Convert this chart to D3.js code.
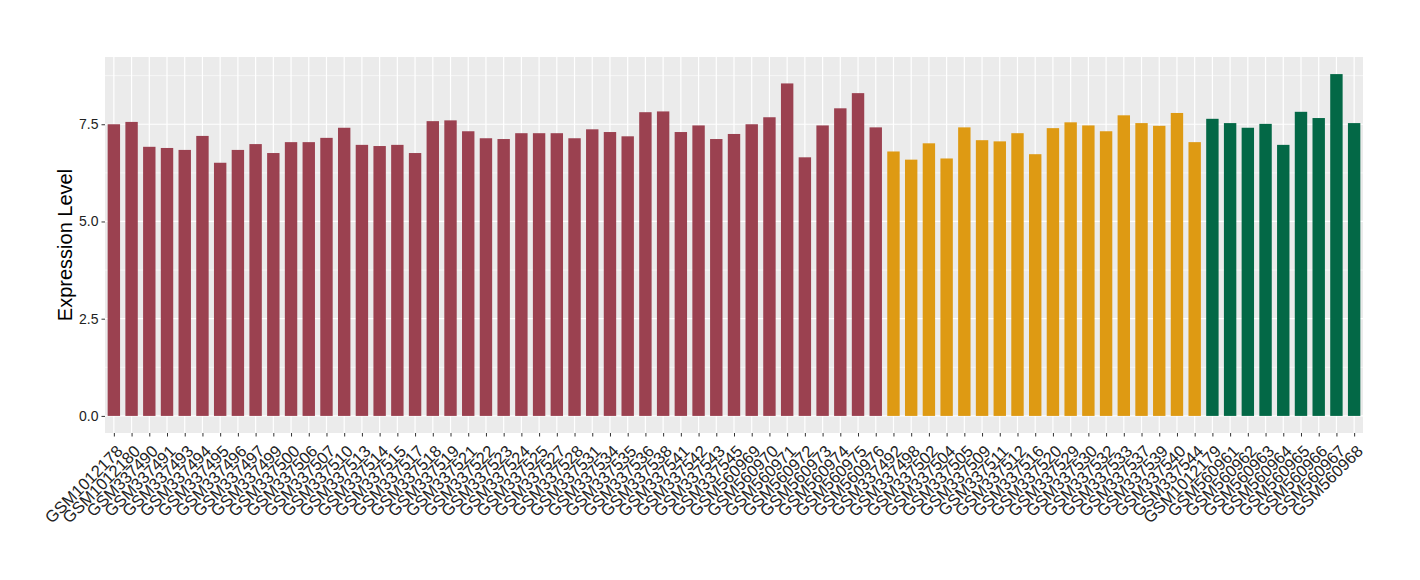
<!DOCTYPE html>
<html>
<head>
<meta charset="utf-8">
<script src="https://cdn.jsdelivr.net/npm/d3@7"></script>
<style>
  body { margin: 0; background: #fff; }
  text { font-family: "Liberation Sans", Arial, Helvetica, sans-serif; }
</style>
</head>
<body>
<svg id="chart" width="1420" height="580"></svg>
<script>
const samples = ["GSM1012178","GSM1012180","GSM337490","GSM337491","GSM337493","GSM337494","GSM337495","GSM337496","GSM337497","GSM337499","GSM337500","GSM337506","GSM337507","GSM337510","GSM337513","GSM337514","GSM337515","GSM337517","GSM337518","GSM337519","GSM337521","GSM337522","GSM337523","GSM337524","GSM337525","GSM337527","GSM337528","GSM337531","GSM337534","GSM337535","GSM337536","GSM337538","GSM337541","GSM337542","GSM337543","GSM337545","GSM560969","GSM560970","GSM560971","GSM560972","GSM560973","GSM560974","GSM560975","GSM560976",
"GSM337492","GSM337498","GSM337502","GSM337504","GSM337505","GSM337509","GSM337511","GSM337512","GSM337516","GSM337520","GSM337529","GSM337530","GSM337532","GSM337533","GSM337537","GSM337539","GSM337540","GSM337544",
"GSM1012179","GSM560961","GSM560962","GSM560963","GSM560964","GSM560965","GSM560966","GSM560967","GSM560968"];

const values = [7.50,7.56,6.92,6.89,6.84,7.20,6.51,6.84,6.99,6.76,7.04,7.04,7.15,7.41,6.97,6.94,6.97,6.76,7.58,7.60,7.32,7.14,7.12,7.27,7.27,7.27,7.14,7.37,7.30,7.19,7.81,7.83,7.30,7.47,7.12,7.25,7.50,7.68,8.55,6.65,7.47,7.91,8.30,7.42,
6.80,6.59,7.01,6.62,7.42,7.09,7.06,7.27,6.73,7.40,7.55,7.47,7.32,7.73,7.53,7.46,7.79,7.04,
7.64,7.53,7.41,7.51,6.97,7.82,7.66,8.79,7.53];

const groups = [].concat(Array(44).fill("A"), Array(18).fill("B"), Array(9).fill("C"));
const groupNames = ["A","B","C"];
const groupColors = ["#9B4150","#DE9A13","#036846"];

const yTicks = [0, 2.5, 5, 7.5];
const yMinor = [1.25, 3.75, 6.25, 8.75];

const data = samples.map((s, i) => ({ name: s, value: values[i], group: groups[i] }));

const svg = d3.select("#chart");
const pL = 105, pR = 1363, pT = 57, pB = 433;

const xc = d3.scalePoint().domain(samples).range([pL, pR]).padding(0.5);
const maxV = d3.max(values);
const y = d3.scaleLinear().domain([-maxV * 0.05, maxV * 1.05]).range([pB, pT]);
const color = d3.scaleOrdinal().domain(groupNames).range(groupColors);

// panel
svg.append("rect").attr("x", pL).attr("y", pT).attr("width", pR - pL).attr("height", pB - pT).attr("fill", "#EBEBEB");

// minor gridlines
svg.append("g").selectAll("line").data(yMinor).join("line")
  .attr("x1", pL).attr("x2", pR)
  .attr("y1", d => y(d)).attr("y2", d => y(d))
  .attr("stroke", "#fff").attr("stroke-width", 0.6);
// major gridlines
svg.append("g").selectAll("line").data(yTicks).join("line")
  .attr("x1", pL).attr("x2", pR)
  .attr("y1", d => y(d)).attr("y2", d => y(d))
  .attr("stroke", "#fff").attr("stroke-width", 1.2);
svg.append("g").selectAll("line").data(samples).join("line")
  .attr("x1", d => xc(d)).attr("x2", d => xc(d))
  .attr("y1", pT).attr("y2", pB)
  .attr("stroke", "#fff").attr("stroke-width", 1.2);

// bars
const bw = 12.4;
svg.append("g").selectAll("rect").data(data).join("rect")
  .attr("x", d => xc(d.name) - bw / 2)
  .attr("width", bw)
  .attr("y", d => y(d.value))
  .attr("height", d => y(0) - y(d.value))
  .attr("fill", d => color(d.group));

// y axis
const yAxis = d3.axisLeft(y).tickValues(yTicks).tickFormat(d3.format(".1f")).tickSize(3.5).tickPadding(3);
const gy = svg.append("g").attr("transform", `translate(${pL},0)`).call(yAxis);
gy.select(".domain").remove();
gy.selectAll(".tick line").attr("stroke", "#333");
gy.selectAll(".tick text").attr("fill", "#222").style("font-size", "14px");

// x axis
const xAxis = d3.axisBottom(xc).tickSize(3.5).tickPadding(2);
const gx = svg.append("g").attr("transform", `translate(0,${pB})`).call(xAxis);
gx.select(".domain").remove();
gx.selectAll(".tick line").attr("stroke", "#333");
gx.selectAll(".tick text")
  .attr("fill", "#222")
  .style("font-size", "16.5px")
  .attr("text-anchor", "end")
  .attr("y", 0)
  .attr("dy", "0.71em")
  .attr("transform", "translate(1,11) rotate(-45)");

// y title
svg.append("text")
  .attr("transform", `translate(72,${(pT + pB) / 2}) rotate(-90)`)
  .attr("text-anchor", "middle")
  .style("font-size", "20px")
  .attr("fill", "#000")
  .text("Expression Level");
</script>
</body>
</html>
